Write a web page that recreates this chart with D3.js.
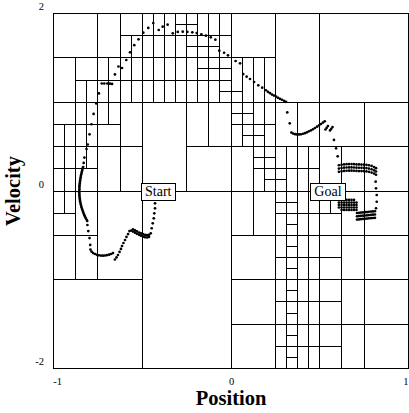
<!DOCTYPE html>
<html>
<head>
<meta charset="utf-8">
<script src="https://cdn.jsdelivr.net/npm/d3@7"></script>
<style>
  body { margin: 0; background: #fff; }
  svg { display: block; font-family: 'Liberation Serif', 'Times New Roman', serif; }
</style>
</head>
<body>
<div id="chart"></div>
<script>
// axis ticks
const xTicks = [-1, 0, 1]
const yTicks = [-2, 0, 2]

// vertical cell borders: [position, velocity from, velocity to]
const vSplits = [
  [-0.9375, -0.25, 0.75], [-0.875, -1, 1.5], [-0.8125, 0.25, 1.25], [-0.75, -1, 2],
  [-0.6875, 0.75, 1.5], [-0.625, 0, 2], [-0.5625, 1, 1.75], [-0.5, -2, 2],
  [-0.4375, 1, 2], [-0.375, 1, 2], [-0.3125, 1, 2], [-0.25, 0, 2],
  [-0.1875, 1, 2], [-0.125, 0.5, 2], [-0.0625, 1, 2], [0, -2, 2],
  [0.0625, 0.5, 1.5], [0.125, -0.5, 1.5], [0.1875, 0, 1.5], [0.25, -2, 2],
  [0.3125, -2, 0.5], [0.375, -2, 1], [0.4375, -2, 0.5], [0.5, -2, 2],
  [0.5625, -0.25, 0], [0.625, -2, 0.5], [0.75, -2, 1]
]

// horizontal cell borders: [velocity, position from, position to]
const hSplits = [
  [1.875, -0.3125, -0.1875], [1.75, -0.625, 0], [1.625, -0.25, -0.0625], [1.5, -1, 0.25],
  [1.375, -0.1875, 0], [1.25, -0.875, 0], [1.125, -0.0625, 0.0625], [1, -1, 1],
  [0.875, 0, 0.125], [0.75, -1, -0.625], [0.75, 0, 0.25], [0.625, 0.0625, 0.1875],
  [0.5, -1, -0.5], [0.5, -0.25, 1], [0.375, 0.125, 0.25], [0.25, -1, -0.75],
  [0.25, 0.125, 0.5], [0.125, 0.1875, 0.3125], [0, -1, 1], [-0.125, 0.25, 0.375],
  [-0.25, -1, -0.875], [-0.25, 0.25, 0.625], [-0.375, 0.3125, 0.375], [-0.5, -1, -0.75],
  [-0.5, 0, 1], [-0.625, 0.3125, 0.375], [-0.75, 0.25, 0.625], [-0.875, 0.3125, 0.375],
  [-1, -1, -0.5], [-1, 0, 1], [-1.125, 0.3125, 0.375], [-1.25, 0.25, 0.625],
  [-1.375, 0.3125, 0.375], [-1.5, 0, 1], [-1.625, 0.3125, 0.375], [-1.75, 0.25, 0.625],
  [-1.875, 0.3125, 0.375]
]

// trajectory samples: [position, velocity]
const trajectory = [
  // leaving the start, going down
  [-0.425, -0.023], [-0.426, -0.079], [-0.428, -0.139], [-0.428, -0.195], [-0.432, -0.251],
  [-0.435, -0.308], [-0.441, -0.364], [-0.447, -0.420], [-0.452, -0.477],
  // doubled hook
  [-0.462, -0.518], [-0.473, -0.524], [-0.485, -0.521], [-0.496, -0.513], [-0.507, -0.504],
  [-0.518, -0.494], [-0.530, -0.482], [-0.541, -0.470], [-0.552, -0.457], [-0.561, -0.447],
  [-0.462, -0.494], [-0.473, -0.498], [-0.485, -0.495], [-0.496, -0.487], [-0.507, -0.478],
  [-0.518, -0.468], [-0.530, -0.456], [-0.541, -0.444], [-0.552, -0.432],
  [-0.572, -0.451], [-0.580, -0.485], [-0.589, -0.518], [-0.597, -0.552], [-0.606, -0.586],
  [-0.614, -0.620], [-0.620, -0.653], [-0.628, -0.687], [-0.637, -0.721], [-0.645, -0.749],
  [-0.654, -0.772],
  // bottom arc
  [-0.665, -0.699], [-0.676, -0.710], [-0.687, -0.718], [-0.699, -0.723], [-0.710, -0.727],
  [-0.721, -0.729], [-0.732, -0.728], [-0.744, -0.725], [-0.755, -0.719], [-0.766, -0.710],
  [-0.777, -0.699], [-0.786, -0.682], [-0.792, -0.659],
  [-0.793, -0.608], [-0.797, -0.530], [-0.804, -0.451], [-0.809, -0.383],
  // turning on the left hill
  [-0.810, -0.338], [-0.814, -0.321], [-0.819, -0.304], [-0.823, -0.287], [-0.827, -0.270],
  [-0.830, -0.254], [-0.833, -0.237], [-0.836, -0.220], [-0.839, -0.203], [-0.842, -0.186],
  [-0.844, -0.169], [-0.846, -0.152], [-0.848, -0.135], [-0.850, -0.118], [-0.851, -0.101],
  [-0.852, -0.085], [-0.853, -0.068], [-0.854, -0.051], [-0.854, -0.034], [-0.855, -0.017],
  [-0.855, 0], [-0.854, 0.017], [-0.854, 0.034], [-0.854, 0.051], [-0.853, 0.068],
  [-0.852, 0.085], [-0.851, 0.101], [-0.850, 0.118], [-0.849, 0.135], [-0.847, 0.152],
  [-0.846, 0.169], [-0.844, 0.186], [-0.842, 0.203], [-0.840, 0.220], [-0.838, 0.237],
  [-0.836, 0.254], [-0.833, 0.270],
  // climbing
  [-0.830, 0.316], [-0.826, 0.377], [-0.814, 0.473], [-0.807, 0.524], [-0.797, 0.639],
  [-0.786, 0.752], [-0.774, 0.868], [-0.759, 0.986], [-0.744, 1.099],
  [-0.728, 1.211], [-0.714, 1.211], [-0.697, 1.211], [-0.682, 1.209], [-0.670, 1.206],
  [-0.654, 1.313], [-0.634, 1.403], [-0.614, 1.386], [-0.590, 1.476], [-0.569, 1.563],
  [-0.545, 1.643], [-0.521, 1.709], [-0.494, 1.784], [-0.466, 1.837], [-0.438, 1.893],
  [-0.407, 1.814], [-0.385, 1.851], [-0.357, 1.874],
  [-0.328, 1.777], [-0.300, 1.792], [-0.272, 1.795], [-0.246, 1.792], [-0.218, 1.788],
  [-0.193, 1.780], [-0.167, 1.766], [-0.141, 1.750], [-0.114, 1.732], [-0.088, 1.705],
  [-0.066, 1.581], [-0.039, 1.558], [-0.017, 1.529], [0.026, 1.465], [0.051, 1.439],
  [0.069, 1.318], [0.088, 1.288], [0.107, 1.262], [0.130, 1.228], [0.154, 1.191], [0.176, 1.164],
  [0.197, 1.135], [0.208, 1.118], [0.220, 1.102], [0.231, 1.087], [0.242, 1.075], [0.254, 1.063],
  [0.265, 1.050], [0.276, 1.039], [0.287, 1.028], [0.299, 1.016], [0.310, 1.005],
  [0.317, 0.885], [0.331, 0.763],
  [0.340, 0.659], [0.349, 0.648], [0.361, 0.640], [0.372, 0.637], [0.383, 0.637], [0.394, 0.639],
  [0.406, 0.645], [0.417, 0.652], [0.428, 0.661], [0.439, 0.673], [0.451, 0.684], [0.462, 0.696],
  [0.473, 0.710], [0.485, 0.725], [0.496, 0.739], [0.507, 0.755], [0.518, 0.771], [0.528, 0.785],
  [0.532, 0.693], [0.539, 0.712], [0.546, 0.731], [0.558, 0.682], [0.565, 0.701], [0.572, 0.720],
  [0.580, 0.575], [0.592, 0.481], [0.601, 0.391],
  // around the goal: upper band
  [0.608, 0.290], [0.623, 0.296], [0.637, 0.300], [0.651, 0.302], [0.665, 0.303], [0.679, 0.303],
  [0.693, 0.302], [0.707, 0.300], [0.721, 0.299], [0.735, 0.298], [0.749, 0.297], [0.763, 0.295],
  [0.777, 0.290], [0.792, 0.282], [0.806, 0.270], [0.817, 0.257],
  [0.608, 0.253], [0.623, 0.259], [0.637, 0.263], [0.651, 0.265], [0.665, 0.266], [0.679, 0.266],
  [0.693, 0.265], [0.707, 0.263], [0.721, 0.262], [0.735, 0.261], [0.749, 0.260], [0.763, 0.258],
  [0.777, 0.253], [0.792, 0.245], [0.806, 0.233], [0.817, 0.220],
  [0.608, 0.216], [0.623, 0.222], [0.637, 0.226], [0.651, 0.228], [0.665, 0.229], [0.679, 0.229],
  [0.693, 0.228], [0.707, 0.226], [0.721, 0.225], [0.735, 0.224], [0.749, 0.223], [0.763, 0.221],
  [0.777, 0.216], [0.792, 0.208], [0.806, 0.196], [0.817, 0.183],
  // right side
  [0.815, 0.105], [0.817, 0.030], [0.821, -0.045], [0.821, -0.121], [0.817, -0.195],
  // lower band
  [0.710, -0.248], [0.721, -0.246], [0.732, -0.243], [0.744, -0.241], [0.755, -0.239],
  [0.766, -0.237], [0.777, -0.234], [0.789, -0.232], [0.800, -0.230], [0.811, -0.228],
  [0.710, -0.285], [0.721, -0.283], [0.732, -0.280], [0.744, -0.278], [0.755, -0.276],
  [0.766, -0.274], [0.777, -0.271], [0.789, -0.269], [0.800, -0.267], [0.811, -0.265],
  [0.710, -0.322], [0.721, -0.320], [0.732, -0.317], [0.744, -0.315], [0.755, -0.313],
  [0.766, -0.311], [0.777, -0.308], [0.789, -0.306], [0.800, -0.304], [0.811, -0.302],
  // dense knot under the goal label
  [0.608, -0.101], [0.623, -0.101], [0.637, -0.101], [0.651, -0.101], [0.665, -0.101], [0.679, -0.101], [0.693, -0.101],
  [0.608, -0.130], [0.623, -0.130], [0.637, -0.130], [0.651, -0.130], [0.665, -0.130], [0.679, -0.130], [0.693, -0.130], [0.707, -0.130],
  [0.608, -0.158], [0.623, -0.158], [0.637, -0.158], [0.651, -0.158], [0.665, -0.158], [0.679, -0.158], [0.693, -0.158], [0.707, -0.158],
  [0.608, -0.186], [0.623, -0.186], [0.637, -0.186], [0.651, -0.186], [0.665, -0.186], [0.679, -0.186], [0.693, -0.186], [0.707, -0.186],
  [0.623, -0.214], [0.637, -0.214], [0.651, -0.214], [0.665, -0.214], [0.679, -0.214], [0.693, -0.214], [0.707, -0.214]
]

// boxed labels
const labelNames = ['Start', 'Goal']
const labelPos = [-0.41, 0.546]
const labelVel = [0, 0]

const width = 409
const height = 413
const margin = { left: 53.5, right: 0.5, top: 13.5, bottom: 44.5 }

const svg = d3.select('#chart')
  .append('svg')
  .attr('width', width)
  .attr('height', height)

const x = d3.scaleLinear().domain([-1, 1]).range([margin.left, width - margin.right])
const y = d3.scaleLinear().domain([-2, 2]).range([height - margin.bottom, margin.top])

// cell borders
const grid = svg.append('g')
  .attr('stroke', '#000')
  .attr('stroke-width', 1)
  .attr('shape-rendering', 'crispEdges')
grid.selectAll('.vs')
  .data(vSplits)
  .join('line')
  .attr('class', 'vs')
  .attr('x1', d => x(d[0]))
  .attr('x2', d => x(d[0]))
  .attr('y1', d => y(d[1]))
  .attr('y2', d => y(d[2]))
grid.selectAll('.hs')
  .data(hSplits)
  .join('line')
  .attr('class', 'hs')
  .attr('y1', d => y(d[0]))
  .attr('y2', d => y(d[0]))
  .attr('x1', d => x(d[1]))
  .attr('x2', d => x(d[2]))
grid.append('rect')
  .attr('x', x(-1))
  .attr('y', y(2))
  .attr('width', x(1) - x(-1))
  .attr('height', y(-2) - y(2))
  .attr('fill', 'none')

// trajectory dots
svg.append('g')
  .selectAll('circle')
  .data(trajectory)
  .join('circle')
  .attr('cx', d => x(d[0]))
  .attr('cy', d => y(d[1]))
  .attr('r', 1.35)
  .attr('fill', '#000')

// axes, labels only
svg.append('g')
  .attr('transform', `translate(0,${y(-2)})`)
  .call(d3.axisBottom(x).tickValues(xTicks).tickSize(0).tickPadding(9).tickFormat(d => String(d)))
  .call(g => g.select('.domain').remove())
  .call(g => g.selectAll('text')
    .attr('font-family', 'Liberation Serif, serif')
    .attr('font-size', 10.5)
    .attr('fill', '#000')
    .attr('dx', d => d < 0 ? '0.35em' : d > 0 ? '-0.3em' : null))

svg.append('g')
  .attr('transform', `translate(${x(-1)},0)`)
  .call(d3.axisLeft(y).tickValues(yTicks).tickSize(0).tickPadding(9.5).tickFormat(d => String(d)))
  .call(g => g.select('.domain').remove())
  .call(g => g.selectAll('text')
    .attr('font-family', 'Liberation Serif, serif')
    .attr('font-size', 10.5)
    .attr('fill', '#000')
    .attr('dy', '-0.35em'))

// axis titles
svg.append('text')
  .attr('x', (x(-1) + x(1)) / 2)
  .attr('y', 405)
  .attr('text-anchor', 'middle')
  .attr('font-weight', 'bold')
  .attr('font-size', 20.5)
  .text('Position')

svg.append('text')
  .attr('transform', `translate(19.5,${(y(-2) + y(2)) / 2}) rotate(-90)`)
  .attr('text-anchor', 'middle')
  .attr('font-weight', 'bold')
  .attr('font-size', 20.5)
  .text('Velocity')

// Start / Goal boxes
const tags = svg.append('g')
  .selectAll('g')
  .data(labelNames)
  .join('g')
  .attr('transform', (d, i) => `translate(${x(labelPos[i])},${y(labelVel[i])})`)
tags.each(function (d) {
  let g = d3.select(this)
  let rect = g.append('rect')
  let t = g.append('text')
    .attr('text-anchor', 'middle')
    .attr('dy', '0.35em')
    .attr('font-size', 14)
    .text(d)
  let b = t.node().getBBox()
  rect.attr('x', b.x - 3.5)
    .attr('y', -8)
    .attr('width', b.width + 7)
    .attr('height', 17)
    .attr('fill', '#fff')
    .attr('stroke', '#000')
    .attr('stroke-width', 1)
    .attr('shape-rendering', 'crispEdges')
})
</script>
</body>
</html>
